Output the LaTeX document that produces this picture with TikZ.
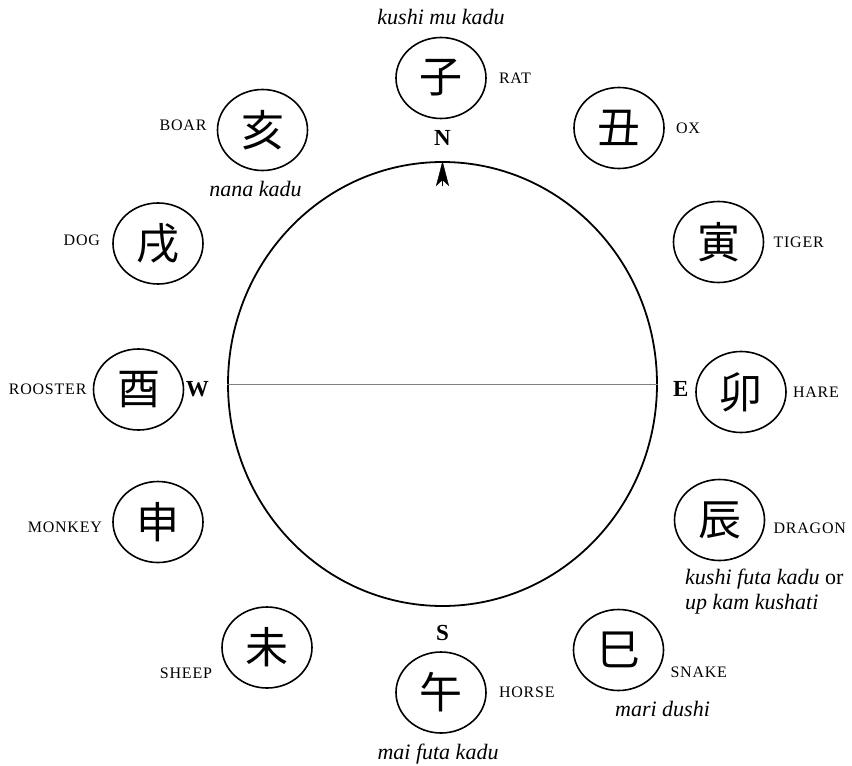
\documentclass[tikz,border=0pt]{standalone}
\usepackage{fontspec}
\setmainfont{Liberation Serif}
\newfontfamily\cjk{Noto Sans CJK JP}
\newfontfamily\tagfont[LetterSpace=5]{Liberation Serif}
\usetikzlibrary{arrows.meta,positioning,shapes.geometric}

\begin{document}
\begin{tikzpicture}[
    x=1pt, y=-1pt,
    >=Stealth,
    sign/.style={draw, ellipse, line width=1.6pt, minimum width=90pt, minimum height=81pt, inner sep=0pt, font=\cjk\fontsize{43}{43}\selectfont},
    tag/.style={inner sep=0pt, font=\tagfont\fontsize{16}{16}\selectfont},
    note/.style={inner sep=0pt, align=left, font=\itshape\fontsize{22}{25}\selectfont},
    dir/.style={inner sep=0pt, font=\bfseries\fontsize{23}{23}\selectfont},
    axis/.style={gray, line width=0.8pt}
]
\useasboundingbox (0,0) rectangle (852,766);

% Compass ring with the east-west line and the north pointer.
\node[draw, ellipse, line width=1.8pt, minimum width=429pt, minimum height=444pt, inner sep=0pt] (ring) at (442.5,384) {};
\draw[axis] (ring.west) -- (ring.east);
\draw[-{Stealth[length=25pt,width=13pt,inset=6pt]}, line width=0.4pt] ([yshift=-25pt]ring.north) -- (ring.north);

\node[dir, above=15pt of ring.north] (north) {N};
\node[dir, below=18pt of ring.south] (south) {S};
\node[dir, left=18pt of ring.west, yshift=-5pt] (west) {W};
\node[dir, right=15pt of ring.east, yshift=-5pt] (east) {E};

% The twelve branches, clockwise from the rat.
\node[sign] (rat) at (441,78) {子};
\node[sign] (ox) at (619,128) {丑};
\node[sign] (tiger) at (718.5,242) {寅};
\node[sign] (hare) at (741,392) {卯};
\node[sign] (dragon) at (719.5,520) {辰};
\node[sign] (snake) at (618.5,650) {巳};
\node[sign] (horse) at (441,692.5) {午};
\node[sign] (sheep) at (267,647.5) {未};
\node[sign] (monkey) at (158,522) {申};
\node[sign] (rooster) at (138.5,389.5) {酉};
\node[sign] (dog) at (158,243.5) {戌};
\node[sign] (boar) at (262.5,130) {亥};

% Animal names.
\node[tag, right=12pt of rat] (ratname) {RAT};
\node[tag, right=11pt of ox] (oxname) {OX};
\node[tag, right=9pt of tiger] (tigername) {TIGER};
\node[tag, right=6pt of hare] (harename) {HARE};
\node[tag, right=8pt of dragon, yshift=-8pt] (dragonname) {DRAGON};
\node[tag, right=6pt of snake, yshift=-22pt] (snakename) {SNAKE};
\node[tag, right=12pt of horse] (horsename) {HORSE};
\node[tag, left=9pt of sheep, yshift=-26pt] (sheepname) {SHEEP};
\node[tag, left=10pt of monkey, yshift=-5pt] (monkeyname) {MONKEY};
\node[tag, left=6pt of rooster] (roostername) {ROOSTER};
\node[tag, left=12pt of dog, yshift=3pt] (dogname) {DOG};
\node[tag, left=10pt of boar, yshift=5pt] (boarname) {BOAR};

% Local names.
\node[note, above=12pt of rat] (ratnote) {kushi mu kadu};
\node[note, below=10pt of boar, xshift=-7pt] (boarnote) {nana kadu};
\node[note, anchor=north west] (dragonnote) at ([xshift=-34.5pt, yshift=-8pt]dragon.south) {kushi futa kadu \textup{or}\\up kam kushati};
\node[note, below=10pt of snake, xshift=44pt] (snakenote) {mari dushi};
\node[note, below=10pt of horse, xshift=-3pt] (horsenote) {mai futa kadu};

\end{tikzpicture}
\end{document}
